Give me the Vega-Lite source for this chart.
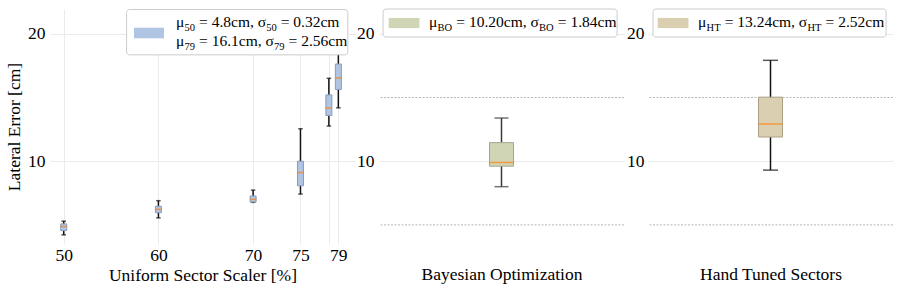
{
"$schema": "https://vega.github.io/schema/vega-lite/v6.json",
"padding": {"left": 5, "top": 8, "right": 5, "bottom": 5},
"spacing": 24,
"bounds": "flush",
"config": {
  "font": "Liberation Serif",
  "view": {"stroke": null},
  "axis": {"labelFont": "Liberation Serif", "titleFont": "Liberation Serif", "labelFontSize": 17.5, "titleFontSize": 17.5, "titleFontWeight": "normal", "labelColor": "#000", "titleColor": "#000", "ticks": false, "domain": false, "gridColor": "#ebebeb", "gridWidth": 1, "labelOverlap": false}
},
"hconcat": [
{
  "width": 305, "height": 235,
  "data": {"values": [
    {"x": 50, "lo": 4.22, "q1": 4.56, "med": 4.87, "q3": 5.08, "hi": 5.29},
    {"x": 60, "lo": 5.55, "q1": 5.96, "med": 6.22, "q3": 6.46, "hi": 6.90},
    {"x": 70, "lo": 6.77, "q1": 6.80, "med": 7.00, "q3": 7.27, "hi": 7.73},
    {"x": 75, "lo": 7.42, "q1": 8.07, "med": 9.11, "q3": 10.0, "hi": 12.55},
    {"x": 78, "lo": 12.76, "q1": 13.59, "med": 14.19, "q3": 15.21, "hi": 16.51},
    {"x": 79, "lo": 14.19, "q1": 15.63, "med": 16.54, "q3": 17.63, "hi": 19.5}
  ]},
  "layer": [
    {"mark": {"type": "rule", "color": "#111", "strokeWidth": 1.5},
     "encoding": {
       "x": {"field": "x", "type": "quantitative", "scale": {"domain": [49.08, 80.23], "nice": false, "zero": false}, "axis": {"values": [50, 60, 70, 75, 78, 79], "labelExpr": "datum.value == 78 ? '' : datum.label", "grid": true, "title": "Uniform Sector Scaler [%]", "labelPadding": 2, "titlePadding": 3}},
       "y": {"field": "lo", "type": "quantitative", "scale": {"domain": [3.5, 21.95], "nice": false, "zero": false}, "axis": {"values": [10, 20], "grid": true, "title": "Lateral Error [cm]", "labelPadding": 5, "titlePadding": 4}},
       "y2": {"field": "hi"}}},
    {"mark": {"type": "tick", "orient": "horizontal", "size": 4.5, "thickness": 1.5, "color": "#111"},
     "encoding": {"x": {"field": "x", "type": "quantitative", "title": "Uniform Sector Scaler [%]"}, "y": {"field": "lo", "type": "quantitative", "title": "Lateral Error [cm]"}}},
    {"mark": {"type": "tick", "orient": "horizontal", "size": 4.5, "thickness": 1.5, "color": "#111"},
     "encoding": {"x": {"field": "x", "type": "quantitative", "title": "Uniform Sector Scaler [%]"}, "y": {"field": "hi", "type": "quantitative", "title": "Lateral Error [cm]"}}},
    {"mark": {"type": "bar", "width": 6, "fill": "#b0c4e4", "stroke": "#8a9cb8", "strokeWidth": 1},
     "encoding": {"x": {"field": "x", "type": "quantitative", "title": "Uniform Sector Scaler [%]"}, "y": {"field": "q1", "type": "quantitative", "title": "Lateral Error [cm]"}, "y2": {"field": "q3"}}},
    {"mark": {"type": "tick", "orient": "horizontal", "size": 6, "thickness": 1.5, "color": "#ff7f0e"},
     "encoding": {"x": {"field": "x", "type": "quantitative", "title": "Uniform Sector Scaler [%]"}, "y": {"field": "med", "type": "quantitative", "title": "Lateral Error [cm]"}}},
    {"data": {"values": [{"k": 1}]},
     "layer": [
      {"mark": {"type": "rect", "fill": "white", "stroke": "#cccccc", "strokeWidth": 1, "cornerRadius": 3},
       "encoding": {"x": {"datum": 56.64, "type": "quantitative"}, "x2": {"datum": 80.0}, "y": {"datum": 21.91, "type": "quantitative"}, "y2": {"datum": 18.35}}},
      {"mark": {"type": "rect", "fill": "#b0c4e4"},
       "encoding": {"x": {"datum": 57.42, "type": "quantitative"}, "x2": {"datum": 60.59}, "y": {"datum": 20.48, "type": "quantitative"}, "y2": {"datum": 19.65}}},
      {"mark": {"type": "text", "align": "left", "baseline": "alphabetic", "fontSize": 15.5, "dx": 0},
       "encoding": {"x": {"datum": 61.85, "type": "quantitative"}, "y": {"datum": 20.56, "type": "quantitative"}, "text": {"value": "μ"}}},
      {"mark": {"type": "text", "align": "left", "baseline": "alphabetic", "fontSize": 10.5, "dx": 8.5, "dy": 4},
       "encoding": {"x": {"datum": 61.85, "type": "quantitative"}, "y": {"datum": 20.56, "type": "quantitative"}, "text": {"value": "50"}}},
      {"mark": {"type": "text", "align": "left", "baseline": "alphabetic", "fontSize": 15.5, "dx": 23.1},
       "encoding": {"x": {"datum": 61.85, "type": "quantitative"}, "y": {"datum": 20.56, "type": "quantitative"}, "text": {"value": "= 4.8cm, σ"}}},
      {"mark": {"type": "text", "align": "left", "baseline": "alphabetic", "fontSize": 10.5, "dx": 90.3, "dy": 4},
       "encoding": {"x": {"datum": 61.85, "type": "quantitative"}, "y": {"datum": 20.56, "type": "quantitative"}, "text": {"value": "50"}}},
      {"mark": {"type": "text", "align": "left", "baseline": "alphabetic", "fontSize": 15.5, "dx": 104.8},
       "encoding": {"x": {"datum": 61.85, "type": "quantitative"}, "y": {"datum": 20.56, "type": "quantitative"}, "text": {"value": "= 0.32cm"}}},
      {"mark": {"type": "text", "align": "left", "baseline": "alphabetic", "fontSize": 15.5, "dx": 0},
       "encoding": {"x": {"datum": 61.85, "type": "quantitative"}, "y": {"datum": 19.02, "type": "quantitative"}, "text": {"value": "μ"}}},
      {"mark": {"type": "text", "align": "left", "baseline": "alphabetic", "fontSize": 10.5, "dx": 8.5, "dy": 4},
       "encoding": {"x": {"datum": 61.85, "type": "quantitative"}, "y": {"datum": 19.02, "type": "quantitative"}, "text": {"value": "79"}}},
      {"mark": {"type": "text", "align": "left", "baseline": "alphabetic", "fontSize": 15.5, "dx": 23.1},
       "encoding": {"x": {"datum": 61.85, "type": "quantitative"}, "y": {"datum": 19.02, "type": "quantitative"}, "text": {"value": "= 16.1cm, σ"}}},
      {"mark": {"type": "text", "align": "left", "baseline": "alphabetic", "fontSize": 10.5, "dx": 98.1, "dy": 4},
       "encoding": {"x": {"datum": 61.85, "type": "quantitative"}, "y": {"datum": 19.02, "type": "quantitative"}, "text": {"value": "79"}}},
      {"mark": {"type": "text", "align": "left", "baseline": "alphabetic", "fontSize": 15.5, "dx": 112.6},
       "encoding": {"x": {"datum": 61.85, "type": "quantitative"}, "y": {"datum": 19.02, "type": "quantitative"}, "text": {"value": "= 2.56cm"}}}
     ]}
  ]
},
{
  "width": 245, "height": 235,
  "data": {"values": [
    {"x": 0.5, "lo": 8.0, "q1": 9.61, "med": 9.90, "q3": 11.46, "hi": 13.39}
  ]},
  "layer": [
    {"data": {"values": [{"y": 5}, {"y": 15}]},
     "mark": {"type": "rule", "color": "#b5b5b5", "strokeWidth": 1, "strokeDash": [2, 1.5]},
     "encoding": {"y": {"field": "y", "type": "quantitative", "scale": {"domain": [3.5, 21.95], "nice": false, "zero": false}, "axis": {"values": [10, 20], "grid": true, "title": null, "labelPadding": 5}}}},
    {"mark": {"type": "rule", "color": "#3a3a3a", "strokeWidth": 1.5},
     "encoding": {
       "x": {"field": "x", "type": "quantitative", "scale": {"domain": [0, 1], "nice": false, "zero": false}, "axis": {"labels": false, "grid": false, "title": "Bayesian Optimization", "titlePadding": 21}},
       "y": {"field": "lo", "type": "quantitative", "title": null},
       "y2": {"field": "hi"}}},
    {"mark": {"type": "tick", "orient": "horizontal", "size": 14, "thickness": 1.5, "color": "#3a3a3a"},
     "encoding": {"x": {"field": "x", "type": "quantitative", "title": "Bayesian Optimization"}, "y": {"field": "lo", "type": "quantitative", "title": null}}},
    {"mark": {"type": "tick", "orient": "horizontal", "size": 14, "thickness": 1.5, "color": "#3a3a3a"},
     "encoding": {"x": {"field": "x", "type": "quantitative", "title": "Bayesian Optimization"}, "y": {"field": "hi", "type": "quantitative", "title": null}}},
    {"mark": {"type": "bar", "width": 24, "fill": "#cfd5b5", "stroke": "#a3a68f", "strokeWidth": 1},
     "encoding": {"x": {"field": "x", "type": "quantitative", "title": "Bayesian Optimization"}, "y": {"field": "q1", "type": "quantitative", "title": null}, "y2": {"field": "q3"}}},
    {"mark": {"type": "tick", "orient": "horizontal", "size": 24, "thickness": 1.5, "color": "#ff7f0e"},
     "encoding": {"x": {"field": "x", "type": "quantitative", "title": "Bayesian Optimization"}, "y": {"field": "med", "type": "quantitative", "title": null}}},
    {"data": {"values": [{"k": 1}]},
     "layer": [
      {"mark": {"type": "rect", "fill": "white", "stroke": "#cccccc", "strokeWidth": 1, "cornerRadius": 3},
       "encoding": {"x": {"datum": -0.004, "type": "quantitative"}, "x2": {"datum": 0.992}, "y": {"datum": 21.95, "type": "quantitative"}, "y2": {"datum": 19.75}}},
      {"mark": {"type": "rect", "fill": "#cfd5b5"},
       "encoding": {"x": {"datum": 0.02, "type": "quantitative"}, "x2": {"datum": 0.151}, "y": {"datum": 21.25, "type": "quantitative"}, "y2": {"datum": 20.45}}},
      {"mark": {"type": "text", "align": "left", "baseline": "alphabetic", "fontSize": 15.5, "dx": 0},
       "encoding": {"x": {"datum": 0.1918, "type": "quantitative"}, "y": {"datum": 20.54, "type": "quantitative"}, "text": {"value": "μ"}}},
      {"mark": {"type": "text", "align": "left", "baseline": "alphabetic", "fontSize": 10.5, "dx": 8.5, "dy": 4},
       "encoding": {"x": {"datum": 0.1918, "type": "quantitative"}, "y": {"datum": 20.54, "type": "quantitative"}, "text": {"value": "BO"}}},
      {"mark": {"type": "text", "align": "left", "baseline": "alphabetic", "fontSize": 15.5, "dx": 27.2},
       "encoding": {"x": {"datum": 0.1918, "type": "quantitative"}, "y": {"datum": 20.54, "type": "quantitative"}, "text": {"value": "= 10.20cm, σ"}}},
      {"mark": {"type": "text", "align": "left", "baseline": "alphabetic", "fontSize": 10.5, "dx": 110.0, "dy": 4},
       "encoding": {"x": {"datum": 0.1918, "type": "quantitative"}, "y": {"datum": 20.54, "type": "quantitative"}, "text": {"value": "BO"}}},
      {"mark": {"type": "text", "align": "left", "baseline": "alphabetic", "fontSize": 15.5, "dx": 128.7},
       "encoding": {"x": {"datum": 0.1918, "type": "quantitative"}, "y": {"datum": 20.54, "type": "quantitative"}, "text": {"value": "= 1.84cm"}}}
     ]}
  ]
},
{
  "width": 245, "height": 235,
  "data": {"values": [
    {"x": 0.5, "lo": 9.30, "q1": 11.90, "med": 12.92, "q3": 15.03, "hi": 17.92}
  ]},
  "layer": [
    {"data": {"values": [{"y": 5}, {"y": 15}]},
     "mark": {"type": "rule", "color": "#b5b5b5", "strokeWidth": 1, "strokeDash": [2, 1.5]},
     "encoding": {"y": {"field": "y", "type": "quantitative", "scale": {"domain": [3.5, 21.95], "nice": false, "zero": false}, "axis": {"values": [10, 20], "grid": true, "title": null, "labelPadding": 4}}}},
    {"mark": {"type": "rule", "color": "#111", "strokeWidth": 1.5},
     "encoding": {
       "x": {"field": "x", "type": "quantitative", "scale": {"domain": [0, 1], "nice": false, "zero": false}, "axis": {"labels": false, "grid": false, "title": "Hand Tuned Sectors", "titlePadding": 21}},
       "y": {"field": "lo", "type": "quantitative", "title": null},
       "y2": {"field": "hi"}}},
    {"mark": {"type": "tick", "orient": "horizontal", "size": 15, "thickness": 1.5, "color": "#111"},
     "encoding": {"x": {"field": "x", "type": "quantitative", "title": "Hand Tuned Sectors"}, "y": {"field": "lo", "type": "quantitative", "title": null}}},
    {"mark": {"type": "tick", "orient": "horizontal", "size": 15, "thickness": 1.5, "color": "#111"},
     "encoding": {"x": {"field": "x", "type": "quantitative", "title": "Hand Tuned Sectors"}, "y": {"field": "hi", "type": "quantitative", "title": null}}},
    {"mark": {"type": "bar", "width": 24, "fill": "#dbcfb1", "stroke": "#aca186", "strokeWidth": 1},
     "encoding": {"x": {"field": "x", "type": "quantitative", "title": "Hand Tuned Sectors"}, "y": {"field": "q1", "type": "quantitative", "title": null}, "y2": {"field": "q3"}}},
    {"mark": {"type": "tick", "orient": "horizontal", "size": 24, "thickness": 1.5, "color": "#ff7f0e"},
     "encoding": {"x": {"field": "x", "type": "quantitative", "title": "Hand Tuned Sectors"}, "y": {"field": "med", "type": "quantitative", "title": null}}},
    {"data": {"values": [{"k": 1}]},
     "layer": [
      {"mark": {"type": "rect", "fill": "white", "stroke": "#cccccc", "strokeWidth": 1, "cornerRadius": 3},
       "encoding": {"x": {"datum": 0.0, "type": "quantitative"}, "x2": {"datum": 0.992}, "y": {"datum": 21.95, "type": "quantitative"}, "y2": {"datum": 19.75}}},
      {"mark": {"type": "rect", "fill": "#dbcfb1"},
       "encoding": {"x": {"datum": 0.02, "type": "quantitative"}, "x2": {"datum": 0.151}, "y": {"datum": 21.25, "type": "quantitative"}, "y2": {"datum": 20.45}}},
      {"mark": {"type": "text", "align": "left", "baseline": "alphabetic", "fontSize": 15.5, "dx": 0},
       "encoding": {"x": {"datum": 0.1918, "type": "quantitative"}, "y": {"datum": 20.54, "type": "quantitative"}, "text": {"value": "μ"}}},
      {"mark": {"type": "text", "align": "left", "baseline": "alphabetic", "fontSize": 10.5, "dx": 8.5, "dy": 4},
       "encoding": {"x": {"datum": 0.1918, "type": "quantitative"}, "y": {"datum": 20.54, "type": "quantitative"}, "text": {"value": "HT"}}},
      {"mark": {"type": "text", "align": "left", "baseline": "alphabetic", "fontSize": 15.5, "dx": 26.6},
       "encoding": {"x": {"datum": 0.1918, "type": "quantitative"}, "y": {"datum": 20.54, "type": "quantitative"}, "text": {"value": "= 13.24cm, σ"}}},
      {"mark": {"type": "text", "align": "left", "baseline": "alphabetic", "fontSize": 10.5, "dx": 109.4, "dy": 4},
       "encoding": {"x": {"datum": 0.1918, "type": "quantitative"}, "y": {"datum": 20.54, "type": "quantitative"}, "text": {"value": "HT"}}},
      {"mark": {"type": "text", "align": "left", "baseline": "alphabetic", "fontSize": 15.5, "dx": 127.5},
       "encoding": {"x": {"datum": 0.1918, "type": "quantitative"}, "y": {"datum": 20.54, "type": "quantitative"}, "text": {"value": "= 2.52cm"}}}
     ]}
  ]
}
]
}
